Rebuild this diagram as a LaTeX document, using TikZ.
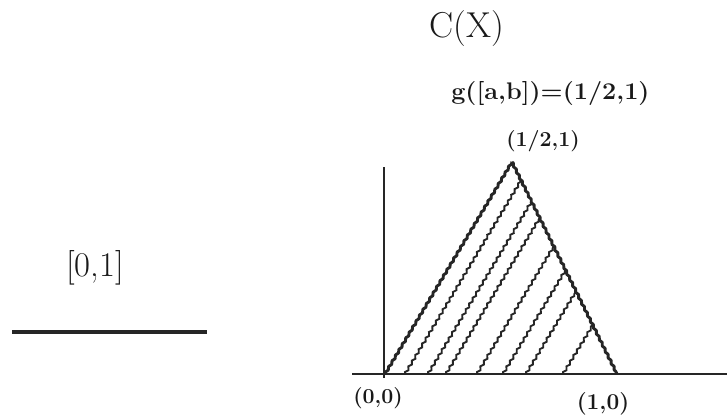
\documentclass[tikz,border=0pt]{standalone}
\usetikzlibrary{decorations.pathmorphing}
\begin{document}
\begin{tikzpicture}[x=0.75pt,y=-0.75pt,
  lbl/.style={inner sep=0pt, text=black!90},
  edge/.style={line width=2.2pt, black!85, line join=round, decorate,
    decoration={zigzag, segment length=5pt, amplitude=0.6pt}},
  hatch/.style={line width=1.4pt, black!85, decorate,
    decoration={zigzag, segment length=5pt, amplitude=0.8pt}},
  axis/.style={line width=1.8pt, black!85}]
\useasboundingbox (0,0) rectangle (727,414);
% titles
\node[lbl, font=\fontsize{27}{30}\selectfont] (cx) at (467,29) {C(X)};
\node[lbl, anchor=west, font=\fontsize{18}{20}\selectfont\bfseries] (g) at (451,94) {\scalebox{1.05}[1]{g([a,b])=(1/2,1)}};
\node[lbl, anchor=west, font=\fontsize{16}{18}\selectfont\bfseries] (top) at (506,141) {(1/2,1)};
% left interval
\node[lbl, font=\fontsize{26}{30}\selectfont] (int) at (95,268) {[0,1]};
\coordinate (l1) at (12,332);
\coordinate (l2) at (207,332);
\draw[line width=2.4pt, black!85] (l1) -- (l2);
% axes
\coordinate (xa) at (352,374);
\coordinate (xb) at (727,374);
\coordinate (ya) at (384,378);
\coordinate (yb) at (384,167);
\draw[axis] (xa) -- (xb);
\draw[line width=1.2pt, black!85] (ya) -- (yb);
% triangle
\coordinate (O) at (385,374);
\coordinate (A) at (512,162);
\coordinate (R) at (617,374);
\draw[edge] (O) -- (A);
\draw[edge] (A) -- (R);
% hatch lines
\foreach \s/\ex/\ey in {405/521.0/180.4, 428/531.5/201.5, 446/539.6/218.0,
  477/553.6/246.5, 503/565.4/270.3, 526/575.8/291.5, 563/592.6/325.4}{
  \coordinate (h\s) at (\s,374);
  \coordinate (e\s) at (\ex,\ey);
  \draw[hatch] (h\s) -- (e\s);
}
% axis labels
\node[lbl, font=\fontsize{16}{18}\selectfont\bfseries] (o) at (378,398) {(0,0)};
\node[lbl, font=\fontsize{17}{18}\selectfont\bfseries] (one) at (603,404) {(1,0)};
\end{tikzpicture}
\end{document}
